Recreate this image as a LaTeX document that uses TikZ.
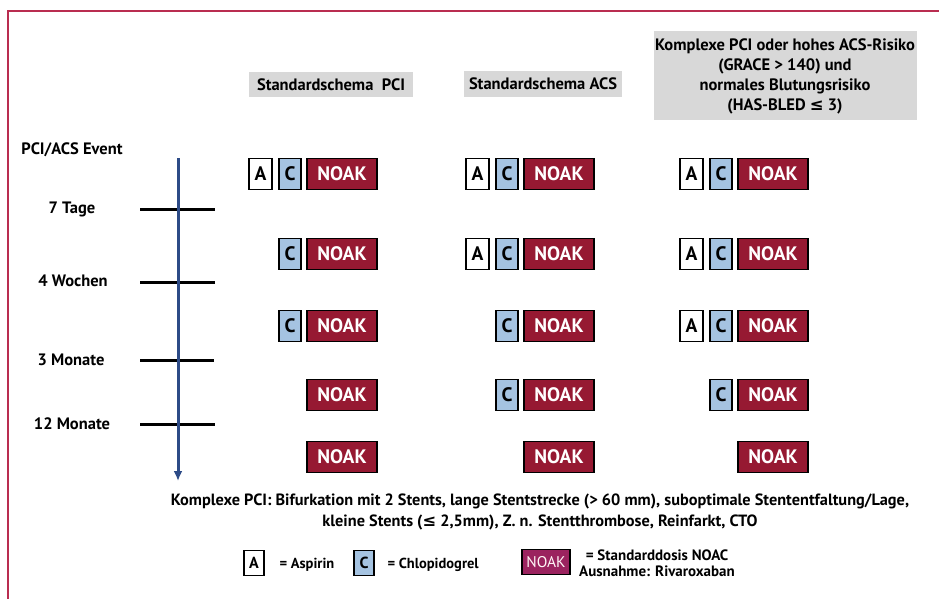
\documentclass[tikz,border=0pt]{standalone}
\usepackage{fontspec}
\setmainfont{PT Sans}
\newfontfamily\symfont{DejaVu Sans}
\usetikzlibrary{arrows.meta}

\definecolor{noakred}{RGB}{150,25,50}
\definecolor{clopiblue}{RGB}{165,195,225}
\definecolor{headgray}{RGB}{216,216,216}
\definecolor{axisblue}{RGB}{45,75,135}
\definecolor{framered}{RGB}{185,45,80}
\definecolor{legmagenta}{RGB}{155,35,95}
\newcommand{\lesseq}{{\symfont ≤}}

\begin{document}
\begin{tikzpicture}[x=1pt, y=-1pt,
    head/.style={fill=headgray, inner sep=0pt, align=center, font=\fontsize{16.5}{20}\selectfont\bfseries},
    tlabel/.style={font=\fontsize{16.5}{18}\selectfont\bfseries},
    abox/.style={draw, line width=1.8pt, fill=white, minimum width=23pt, minimum height=31pt, inner sep=0pt, font=\fontsize{19.5}{19.5}\selectfont\bfseries},
    cbox/.style={abox, fill=clopiblue, minimum width=22pt},
    nbox/.style={abox, fill=noakred, text=white, minimum width=70pt},
    labox/.style={draw, line width=1.5pt, fill=white, minimum width=20pt, minimum height=25pt, inner sep=0pt, font=\fontsize{16}{16}\selectfont\bfseries},
    lcbox/.style={labox, fill=clopiblue},
    lnbox/.style={labox, fill=legmagenta, text=white!85!pink, minimum width=48pt, font=\fontsize{15.5}{15.5}\selectfont},
    legtext/.style={font=\fontsize{14.5}{15}\selectfont\bfseries, align=center},
    tick/.style={line width=3pt},
    axis/.style={-{Latex[length=10pt,width=9pt]}, line width=3pt, axisblue}
]
    \useasboundingbox (0,0) rectangle (939,599);
    \draw[framered, line width=1.2pt] (8,599) |- (939,11);

    % headers
    \node[head, minimum width=164pt, minimum height=25pt] (hpci) at (331,85) {Standardschema~~PCI};
    \node[head, minimum width=158pt, minimum height=26pt] (hacs) at (543,84) {Standardschema ACS};
    \node[head, minimum width=263pt, minimum height=89pt] (hkpl) at (785,76) {Komplexe PCI oder hohes ACS-Risiko\\(GRACE > 140) und\\normales Blutungsrisiko\\(HAS-BLED \lesseq{} 3)};

    % time axis
    \coordinate (ev) at (178,158);
    \coordinate (end) at (178,481);
    \node[tlabel] (lev) at (72,150) {PCI/ACS Event};
    \node[tlabel] (l7) at (72,209) {7 Tage};
    \node[tlabel] (l4) at (73,281) {4 Wochen};
    \node[tlabel] (l3) at (71,360) {3 Monate};
    \node[tlabel] (l12) at (72,424) {12 Monate};
    \draw[tick] (140,209) -- (215,209);
    \draw[tick] (140,282) -- (215,282);
    \draw[tick] (140,360) -- (214,360);
    \draw[tick] (140,424) -- (215,424);
    \draw[axis] (ev) -- (end);

    % Standardschema PCI
    \node[abox] (pa1) at (260.5,174) {A};
    \node[cbox] (pc1) at (290,174) {C};
    \node[nbox] (pn1) at (342,174) {NOAK};
    \node[cbox] (pc2) at (290,254) {C};
    \node[nbox] (pn2) at (342,254) {NOAK};
    \node[cbox] (pc3) at (290,326) {C};
    \node[nbox] (pn3) at (342,326) {NOAK};
    \node[nbox] (pn4) at (342,395) {NOAK};
    \node[nbox] (pn5) at (342,457) {NOAK};

    % Standardschema ACS
    \node[abox] (sa1) at (477.5,174) {A};
    \node[cbox] (sc1) at (507,174) {C};
    \node[nbox] (sn1) at (559,174) {NOAK};
    \node[abox] (sa2) at (477.5,254) {A};
    \node[cbox] (sc2) at (507,254) {C};
    \node[nbox] (sn2) at (559,254) {NOAK};
    \node[cbox] (sc3) at (507,326) {C};
    \node[nbox] (sn3) at (559,326) {NOAK};
    \node[cbox] (sc4) at (507,395) {C};
    \node[nbox] (sn4) at (559,395) {NOAK};
    \node[nbox] (sn5) at (559,457) {NOAK};

    % komplexe PCI / hohes Risiko
    \node[abox] (ka1) at (691.5,174) {A};
    \node[cbox] (kc1) at (721,174) {C};
    \node[nbox] (kn1) at (773,174) {NOAK};
    \node[abox] (ka2) at (691.5,254) {A};
    \node[cbox] (kc2) at (721,254) {C};
    \node[nbox] (kn2) at (773,254) {NOAK};
    \node[abox] (ka3) at (691.5,326) {A};
    \node[cbox] (kc3) at (721,326) {C};
    \node[nbox] (kn3) at (773,326) {NOAK};
    \node[cbox] (kc4) at (721,395) {C};
    \node[nbox] (kn4) at (773,395) {NOAK};
    \node[nbox] (kn5) at (773,457) {NOAK};

    % footnote and legend
    \node[font=\fontsize{16.3}{21}\selectfont\bfseries, align=center] (note) at (540,512) {Komplexe PCI: Bifurkation mit 2 Stents, lange Stentstrecke (> 60 mm), suboptimale Stententfaltung/Lage,\\kleine Stents (\lesseq{} 2,5mm), Z. n. Stentthrombose, Reinfarkt, CTO};
    \node[labox] (leA) at (254,563) {A};
    \node[legtext, anchor=west] (txA) at (276,565) {= Aspirin};
    \node[lcbox] (leC) at (364,563) {C};
    \node[legtext, anchor=west] (txC) at (384,565) {= Chlopidogrel};
    \node[lnbox] (leN) at (546,562) {NOAK};
    \node[legtext, font=\fontsize{15}{16}\selectfont\bfseries] (txN) at (657,563) {= Standarddosis NOAC\\Ausnahme: Rivaroxaban};
\end{tikzpicture}
\end{document}
